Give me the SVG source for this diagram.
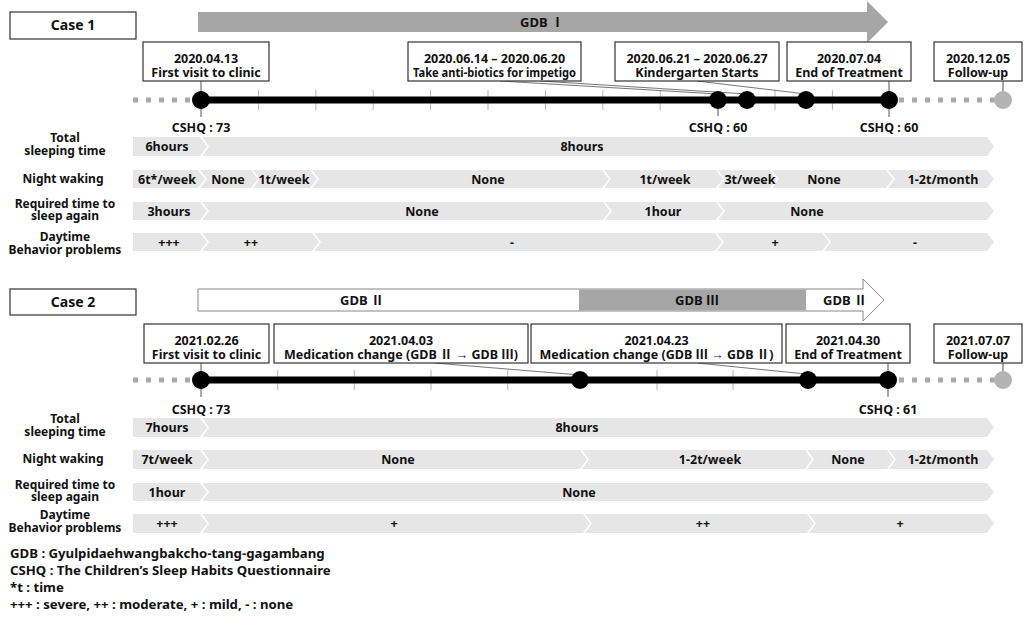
<svg xmlns="http://www.w3.org/2000/svg" width="1031" height="617" viewBox="0 0 1031 617">
<style>
text{font-family:"Noto Sans","Liberation Sans","Noto Sans CJK KR",sans-serif;font-weight:bold;fill:#111;text-anchor:middle}
.box{fill:#fff;stroke:#333;stroke-width:1.2}
.ev{font-size:12.5px}
.lab{font-size:12px}
.seg{fill:#e6e6e6}
.st{font-size:12.5px}
.tick{stroke:#b5b5b5;stroke-width:1}
.main{stroke:#000;stroke-width:7}
.dash{stroke:#aaa;stroke-width:5;stroke-dasharray:5 8}
.dot{fill:#000}
.gdot{fill:#b3b3b3}
.lead{stroke:#666;stroke-width:0.9;fill:none}
.vl{stroke:#555;stroke-width:1}
.foot{font-size:13.2px;text-anchor:start}
</style>

<!-- ================= CASE 1 ================= -->
<g id="case1-label"><rect class="box" x="10" y="12" width="126" height="27"/><text x="73" y="30" style="font-size:14px">Case 1</text></g>
<g id="case1-gdb1"><polygon points="198,12 867,12 867,1 888,22 867,43 867,32 198,32" fill="#a6a6a6"/><text x="542" y="27" style="font-size:13px">GDB Ⅰ</text></g>

<g id="c1-timeline">
<line class="dash" x1="133" y1="100" x2="193" y2="100"/>
<line class="dash" x1="899" y1="100" x2="997" y2="100"/>
<g>
<line class="tick" x1="258.4" y1="90" x2="258.4" y2="110"/><line class="tick" x1="315.8" y1="90" x2="315.8" y2="110"/><line class="tick" x1="373.2" y1="90" x2="373.2" y2="110"/><line class="tick" x1="430.6" y1="90" x2="430.6" y2="110"/><line class="tick" x1="488" y1="90" x2="488" y2="110"/><line class="tick" x1="545.4" y1="90" x2="545.4" y2="110"/><line class="tick" x1="602.8" y1="90" x2="602.8" y2="110"/><line class="tick" x1="660.2" y1="90" x2="660.2" y2="110"/><line class="tick" x1="775" y1="90" x2="775" y2="110"/><line class="tick" x1="832.4" y1="90" x2="832.4" y2="110"/>
</g>
<line class="main" x1="201" y1="100" x2="889" y2="100"/>
</g>

<g id="connectors">
<line class="vl" x1="201" y1="81" x2="201" y2="117"/>
<line class="vl" x1="718" y1="100" x2="718" y2="116"/>
<line class="vl" x1="889" y1="81" x2="889" y2="117"/>
<line class="vl" x1="1003" y1="81" x2="1003" y2="100"/>
<polyline class="lead" points="500,81 718,94"/>
<polyline class="lead" points="540,81 747,94"/>
<polyline class="lead" points="697,81 806,94"/>
<line class="vl" x1="201" y1="363" x2="201" y2="397"/>
<line class="vl" x1="888" y1="363" x2="888" y2="397"/>
<line class="vl" x1="1003" y1="363" x2="1003" y2="380"/>
<polyline class="lead" points="434,363 580,375"/>
<polyline class="lead" points="697,363 806,374"/>
</g>

<g id="c1-dot1"><circle class="dot" cx="201" cy="100" r="9"/></g>
<g id="c1-dot2"><circle class="dot" cx="718" cy="100" r="9"/></g>
<g id="c1-dot3"><circle class="dot" cx="747" cy="100" r="9"/></g>
<g id="c1-dot4"><circle class="dot" cx="806" cy="100" r="9"/></g>
<g id="c1-dot5"><circle class="dot" cx="889" cy="100" r="9"/></g>
<g id="c1-dot6"><circle class="gdot" cx="1003" cy="100" r="9"/></g>

<g id="c1-ev1"><rect class="box" x="143" y="42" width="126" height="39"/><text class="ev" x="206" y="63">2020.04.13</text><text class="ev" x="206" y="77">First visit to clinic</text></g>
<g id="c1-ev2"><rect class="box" x="408" y="42" width="173" height="39"/><text class="ev" x="494.5" y="63">2020.06.14 – 2020.06.20</text><text class="ev" x="494.5" y="77" textLength="163" lengthAdjust="spacingAndGlyphs">Take anti-biotics for impetigo</text></g>
<g id="c1-ev3"><rect class="box" x="615" y="42" width="164" height="39"/><text class="ev" x="697" y="63">2020.06.21 – 2020.06.27</text><text class="ev" x="697" y="77">Kindergarten Starts</text></g>
<g id="c1-ev4"><rect class="box" x="787" y="42" width="124" height="39"/><text class="ev" x="849" y="63">2020.07.04</text><text class="ev" x="849" y="77">End of Treatment</text></g>
<g id="c1-ev5"><rect class="box" x="934" y="42" width="88" height="39"/><text class="ev" x="978" y="63">2020.12.05</text><text class="ev" x="978" y="77">Follow-up</text></g>

<g id="c1-cshq"><text class="ev" x="201" y="132">CSHQ : 73</text><text class="ev" x="718" y="132">CSHQ : 60</text><text class="ev" x="889" y="132">CSHQ : 60</text></g>

<g id="c1-labels">
<text class="lab" x="65" y="142">Total</text><text class="lab" x="65" y="155">sleeping time</text>
<text class="lab" x="63" y="183">Night waking</text>
<text class="lab" x="65" y="208">Required time to</text><text class="lab" x="65" y="220">sleep again</text>
<text class="lab" x="65" y="241">Daytime</text><text class="lab" x="65" y="254">Behavior problems</text>
</g>

<g id="c1-row1">
<polygon class="seg" points="133,137 200,137 207,146.5 200,156 133,156"/>
<polygon class="seg" points="202,137 987,137 994,146.5 987,156 202,156 209,146.5"/>
<text class="st" x="167" y="151">6hours</text><text class="st" x="582" y="151">8hours</text>
</g>
<g id="c1-row2">
<polygon class="seg" points="133,170 198,170 205,179 198,188 133,188"/>
<polygon class="seg" points="200,170 251,170 258,179 251,188 200,188 207,179"/>
<polygon class="seg" points="253,170 310,170 317,179 310,188 253,188 260,179"/>
<polygon class="seg" points="312,170 602,170 609,179 602,188 312,188 319,179"/>
<polygon class="seg" points="604,170 716,170 723,179 716,188 604,188 611,179"/>
<polygon class="seg" points="718,170 770,170 777,179 770,188 718,188 725,179"/>
<polygon class="seg" points="772,170 886,170 893,179 886,188 772,188 779,179"/>
<polygon class="seg" points="888,170 987,170 994,179 987,188 888,188 895,179"/>
<text class="st" x="167" y="183.5">6t*/week</text><text class="st" x="228" y="183.5">None</text><text class="st" x="284" y="183.5">1t/week</text><text class="st" x="488" y="183.5">None</text><text class="st" x="665" y="183.5">1t/week</text><text class="st" x="750" y="183.5">3t/week</text><text class="st" x="824" y="183.5">None</text><text class="st" x="943" y="183.5">1-2t/month</text>
</g>
<g id="c1-row3">
<polygon class="seg" points="133,202 200,202 207,211 200,220 133,220"/>
<polygon class="seg" points="202,202 603,202 610,211 603,220 202,220 209,211"/>
<polygon class="seg" points="605,202 716,202 723,211 716,220 605,220 612,211"/>
<polygon class="seg" points="718,202 987,202 994,211 987,220 718,220 725,211"/>
<text class="st" x="169" y="215.5">3hours</text><text class="st" x="422" y="215.5">None</text><text class="st" x="663" y="215.5">1hour</text><text class="st" x="807" y="215.5">None</text>
</g>
<g id="c1-row4">
<polygon class="seg" points="133,233 200,233 207,242 200,251 133,251"/>
<polygon class="seg" points="202,233 312,233 319,242 312,251 202,251 209,242"/>
<polygon class="seg" points="314,233 715,233 722,242 715,251 314,251 321,242"/>
<polygon class="seg" points="717,233 822,233 829,242 822,251 717,251 724,242"/>
<polygon class="seg" points="824,233 987,233 994,242 987,251 824,251 831,242"/>
<text class="st" x="169" y="246.5">+++</text><text class="st" x="251" y="246.5">++</text><text class="st" x="512" y="246.5">-</text><text class="st" x="775" y="246.5">+</text><text class="st" x="915" y="246.5">-</text>
</g>

<!-- ================= CASE 2 ================= -->
<g id="case2-label"><rect class="box" x="10" y="289" width="126" height="26"/><text x="73" y="307" style="font-size:14px">Case 2</text></g>
<g id="case2-gdb">
<polygon points="198,289 863,289 863,279 884,300 863,321 863,311 198,311" fill="#fff" stroke="#888" stroke-width="1"/>
<rect x="579" y="289.5" width="227" height="21" fill="#a6a6a6"/>
<text x="362" y="305" style="font-size:13px">GDB Ⅱ</text><text x="697" y="305" style="font-size:13px">GDB Ⅲ</text><text x="845" y="305" style="font-size:13px">GDB Ⅱ</text>
</g>

<g id="c2-timeline">
<line class="dash" x1="133" y1="380" x2="193" y2="380"/>
<line class="dash" x1="899" y1="380" x2="997" y2="380"/>
<g>
<line class="tick" x1="277.7" y1="370" x2="277.7" y2="390"/><line class="tick" x1="354.3" y1="370" x2="354.3" y2="390"/><line class="tick" x1="431" y1="370" x2="431" y2="390"/><line class="tick" x1="507.7" y1="370" x2="507.7" y2="390"/><line class="tick" x1="657" y1="370" x2="657" y2="390"/><line class="tick" x1="733" y1="370" x2="733" y2="390"/>
</g>
<line class="main" x1="201" y1="380" x2="888" y2="380"/>
</g>

<g id="c2-dot1"><circle class="dot" cx="201" cy="380" r="9"/></g>
<g id="c2-dot2"><circle class="dot" cx="580" cy="380" r="9"/></g>
<g id="c2-dot3"><circle class="dot" cx="808" cy="380" r="9"/></g>
<g id="c2-dot4"><circle class="dot" cx="888" cy="380" r="9"/></g>
<g id="c2-dot5"><circle class="gdot" cx="1003" cy="380" r="9"/></g>

<g id="c2-ev1"><rect class="box" x="144" y="324" width="125" height="39"/><text class="ev" x="206.5" y="345">2021.02.26</text><text class="ev" x="206.5" y="359">First visit to clinic</text></g>
<g id="c2-ev2"><rect class="box" x="274" y="324" width="254" height="39"/><text class="ev" x="401" y="345">2021.04.03</text><text class="ev" x="401" y="359">Medication change (GDB Ⅱ → GDB Ⅲ)</text></g>
<g id="c2-ev3"><rect class="box" x="531" y="324" width="251" height="39"/><text class="ev" x="656.5" y="345">2021.04.23</text><text class="ev" x="656.5" y="359">Medication change (GDB Ⅲ → GDB Ⅱ)</text></g>
<g id="c2-ev4"><rect class="box" x="786" y="324" width="124" height="39"/><text class="ev" x="848" y="345">2021.04.30</text><text class="ev" x="848" y="359">End of Treatment</text></g>
<g id="c2-ev5"><rect class="box" x="934" y="324" width="88" height="39"/><text class="ev" x="978" y="345">2021.07.07</text><text class="ev" x="978" y="359">Follow-up</text></g>

<g id="c2-cshq"><text class="ev" x="201" y="414">CSHQ : 73</text><text class="ev" x="888" y="414">CSHQ : 61</text></g>

<g id="c2-labels">
<text class="lab" x="65" y="423">Total</text><text class="lab" x="65" y="436">sleeping time</text>
<text class="lab" x="63" y="463">Night waking</text>
<text class="lab" x="65" y="489">Required time to</text><text class="lab" x="65" y="501">sleep again</text>
<text class="lab" x="65" y="519">Daytime</text><text class="lab" x="65" y="532">Behavior problems</text>
</g>

<g id="c2-row1">
<polygon class="seg" points="133,418 200,418 207,427.5 200,437 133,437"/>
<polygon class="seg" points="202,418 987,418 994,427.5 987,437 202,437 209,427.5"/>
<text class="st" x="167" y="432">7hours</text><text class="st" x="577" y="432">8hours</text>
</g>
<g id="c2-row2">
<polygon class="seg" points="133,450 200,450 207,459.5 200,469 133,469"/>
<polygon class="seg" points="202,450 580,450 587,459.5 580,469 202,469 209,459.5"/>
<polygon class="seg" points="582,450 805,450 812,459.5 805,469 582,469 589,459.5"/>
<polygon class="seg" points="807,450 887,450 894,459.5 887,469 807,469 814,459.5"/>
<polygon class="seg" points="889,450 987,450 994,459.5 987,469 889,469 896,459.5"/>
<text class="st" x="167" y="464">7t/week</text><text class="st" x="398" y="464">None</text><text class="st" x="710" y="464">1-2t/week</text><text class="st" x="848" y="464">None</text><text class="st" x="943" y="464">1-2t/month</text>
</g>
<g id="c2-row3">
<polygon class="seg" points="133,483 200,483 207,492 200,501 133,501"/>
<polygon class="seg" points="202,483 987,483 994,492 987,501 202,501 209,492"/>
<text class="st" x="167" y="496.5">1hour</text><text class="st" x="579" y="496.5">None</text>
</g>
<g id="c2-row4">
<polygon class="seg" points="133,514 200,514 207,523.5 200,533 133,533"/>
<polygon class="seg" points="202,514 583,514 590,523.5 583,533 202,533 209,523.5"/>
<polygon class="seg" points="585,514 807,514 814,523.5 807,533 585,533 592,523.5"/>
<polygon class="seg" points="809,514 987,514 994,523.5 987,533 809,533 816,523.5"/>
<text class="st" x="167" y="528">+++</text><text class="st" x="394" y="528">+</text><text class="st" x="703" y="528">++</text><text class="st" x="900" y="528">+</text>
</g>

<g id="footnotes">
<text class="foot" x="10" y="558">GDB : Gyulpidaehwangbakcho-tang-gagambang</text>
<text class="foot" x="10" y="575">CSHQ : The Children’s Sleep Habits Questionnaire</text>
<text class="foot" x="10" y="592">*t : time</text>
<text class="foot" x="10" y="609">+++ : severe, ++ : moderate, + : mild, - : none</text>
</g>
</svg>
